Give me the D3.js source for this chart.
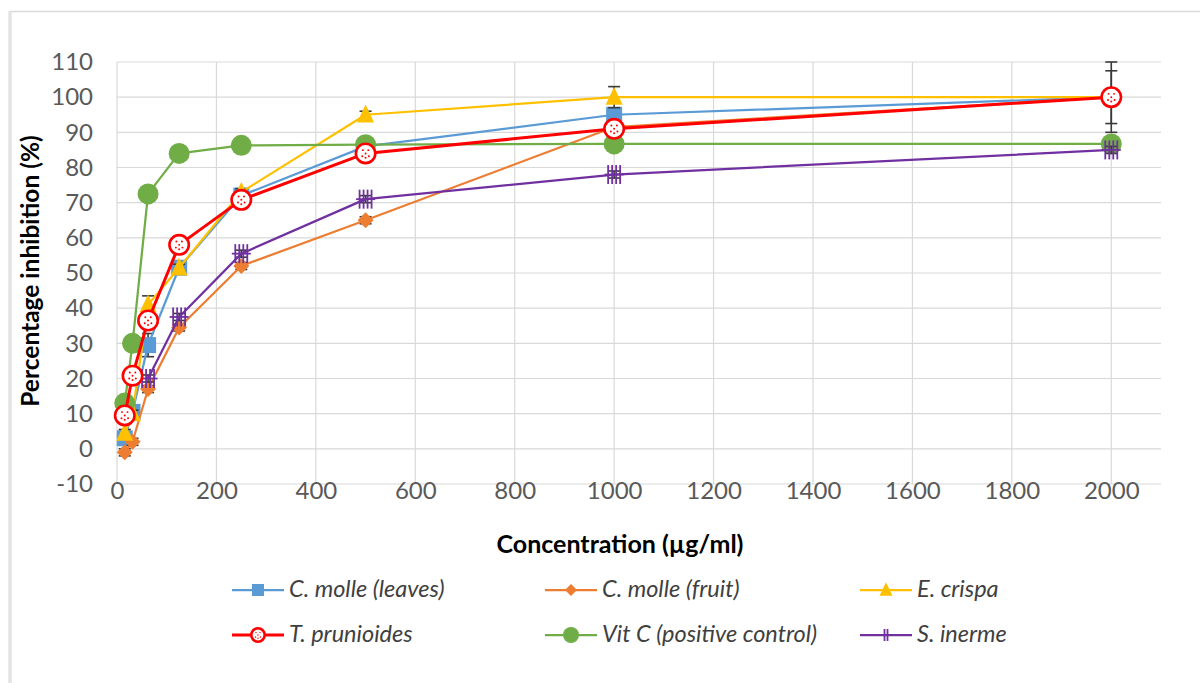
<!DOCTYPE html>
<html>
<head>
<meta charset="utf-8">
<script src="https://cdn.jsdelivr.net/npm/d3@7"></script>
<style>
  body { margin: 0; background: #fff; }
  text { font-family: Lato, "Open Sans", sans-serif; }
</style>
</head>
<body>
<div id="figure"></div>
<script>
const width = 1200,
      height = 683;

// Concentrations (µg/ml) and % inhibition per extract.
const concentrations = [15.625, 31.25, 62.5, 125, 250, 500, 1000, 2000];
const leaves     = [3, 10.5, 29.5, 51.5, 72, 86, 95, 100];
const fruit      = [-1, 2, 17, 34.5, 52, 65, 91.5, 100];
const crispa     = [4.5, 10, 41, 51.5, 73, 95, 100, 100];
const prunioides = [9.5, 20.8, 36.5, 58, 70.8, 84, 91, 100];
const vitc       = [13, 30, 72.5, 84, 86.3, 86.5, 86.7, 86.7];
const inerme     = [null, null, 20, 37.5, 55.5, 71, 78, 85];

// Standard deviations (error bars).
const leavesErr     = [1, 1, 3.3, 1, 1, 1, 1, 10];
const fruitErr      = [1, 1, 1, 1, 1, 1, 1, 7.5];
const crispaErr     = [1, 1, 2.5, 1, 1, 1, 3, 1];
const prunioidesErr = [1, 1, 1, 1, 1, 1, 1, 1];
const vitcErr       = [1, 1, 1, 1, 1, 1, 1, 1];
const inermeErr     = [0, 0, 1, 1, 1, 1, 1, 1];

const xTicks = d3.range(0, 2001, 200);
const yTicks = d3.range(-10, 111, 10);

const series = [
  {name: "C. molle (leaves)", values: leaves, err: leavesErr, color: "#5B9BD5", marker: "square", lw: 2.25},
  {name: "C. molle (fruit)", values: fruit, err: fruitErr, color: "#ED7D31", marker: "diamond", lw: 2.25},
  {name: "E. crispa", values: crispa, err: crispaErr, color: "#FFC000", marker: "triangle", lw: 2.25},
  {name: "T. prunioides", values: prunioides, err: prunioidesErr, color: "#FF0000", marker: "dotted", lw: 3},
  {name: "Vit C (positive control)", values: vitc, err: vitcErr, color: "#70AD47", marker: "circle", lw: 2.25},
  {name: "S. inerme", values: inerme, err: inermeErr, color: "#7030A0", marker: "bars", lw: 2.25}
];
// Drawing order: red series stays on top.
const drawOrder = [0, 1, 2, 4, 5, 3];

const svg = d3.select("#figure").append("svg")
    .attr("width", width)
    .attr("height", height);

// Frame around the figure.
svg.append("line")
    .attr("x1", 9).attr("x2", width).attr("y1", 11.5).attr("y2", 11.5)
    .attr("stroke", "#d9d9d9").attr("stroke-width", 1.5);
svg.append("line")
    .attr("x1", 10).attr("x2", 10).attr("y1", 11).attr("y2", height)
    .attr("stroke", "#e3e3e3").attr("stroke-width", 3.5);

const x = d3.scaleLinear().domain([0, 2100]).range([117, 1161]);
const y = d3.scaleLinear().domain([-10, 110]).range([484, 62]);

// Grid.
const grid = svg.append("g").attr("stroke", "#d9d9d9").attr("stroke-width", 1.2);
grid.selectAll("line.h")
    .data(yTicks)
    .join("line")
    .attr("class", "h")
    .attr("x1", x(0)).attr("x2", x(2100))
    .attr("y1", d => y(d)).attr("y2", d => y(d));
grid.selectAll("line.v")
    .data(xTicks)
    .join("line")
    .attr("class", "v")
    .attr("x1", d => x(d)).attr("x2", d => x(d))
    .attr("y1", y(110)).attr("y2", y(-10));

// Axes: labels only.
svg.append("g")
    .attr("transform", `translate(0,${y(-10) + 5})`)
    .call(d3.axisBottom(x).tickValues(xTicks).tickFormat(d => String(d)).tickSize(0).tickPadding(0))
    .call(g => g.select(".domain").remove())
    .call(g => g.selectAll("text")
        .attr("fill", "#595959")
        .attr("font-size", 24)
        .attr("dy", "0.15em")
        .attr("y", 0)
        .attr("dominant-baseline", "middle"));

svg.append("g")
    .attr("transform", `translate(93,0)`)
    .call(d3.axisLeft(y).tickValues(yTicks).tickFormat(d => String(d)).tickSize(0).tickPadding(0))
    .call(g => g.select(".domain").remove())
    .call(g => g.selectAll("text")
        .attr("fill", "#595959")
        .attr("font-size", 24));

// Axis titles.
svg.append("text")
    .attr("x", 620).attr("y", 547)
    .attr("text-anchor", "middle")
    .attr("dominant-baseline", "middle")
    .attr("font-size", 25).attr("font-weight", "bold")
    .attr("fill", "#000")
    .text("Concentration (µg/ml)");

svg.append("text")
    .attr("transform", "translate(33,271) rotate(-90)")
    .attr("text-anchor", "middle")
    .attr("dominant-baseline", "middle")
    .attr("font-size", 24.5).attr("font-weight", "bold")
    .attr("fill", "#000")
    .text("Percentage inhibition (%)");

// Marker drawing.
function drawMarker(g, type, color, s) {
  if (type === "square") {
    g.append("rect").attr("x", -s / 2).attr("y", -s / 2).attr("width", s).attr("height", s)
        .attr("fill", color);
  } else if (type === "diamond") {
    g.append("path").attr("d", `M0,${-s / 2}L${s / 2},0L0,${s / 2}L${-s / 2},0Z`)
        .attr("fill", color);
  } else if (type === "triangle") {
    g.append("path").attr("d", `M0,${-s * 0.6}L${s / 2},${s * 0.45}L${-s / 2},${s * 0.45}Z`)
        .attr("fill", color);
  } else if (type === "circle") {
    g.append("circle").attr("r", s / 2).attr("fill", color);
  } else if (type === "dotted") {
    g.append("circle").attr("r", s / 2 - 1.3).attr("fill", "#fff")
        .attr("stroke", color).attr("stroke-width", 2.6);
    const dots = [[-2.5, -3], [2.5, -3], [0, 0], [-3, 2.5], [3, 2.5], [0, 4]];
    const k = s / 20;
    g.selectAll("circle.dot").data(dots).join("circle")
        .attr("class", "dot")
        .attr("cx", d => d[0] * k).attr("cy", d => d[1] * k)
        .attr("r", 0.9 * k).attr("fill", color);
  } else if (type === "bars") {
    const n = s > 14 ? [-6, -2, 2, 6] : [-1.5, 1.5];
    g.selectAll("line.bar").data(n).join("line")
        .attr("class", "bar")
        .attr("x1", d => d).attr("x2", d => d)
        .attr("y1", -s / 2).attr("y2", s / 2)
        .attr("stroke", color).attr("stroke-width", 1.8);
    g.append("line").attr("x1", -s / 2).attr("x2", s / 2)
        .attr("stroke", color).attr("stroke-width", 1.8);
  }
}

const line = d3.line()
    .defined(d => d.v !== null)
    .x(d => x(d.c))
    .y(d => y(d.v));

const plot = svg.append("g");

drawOrder.forEach(i => {
  const s = series[i];
  const pts = concentrations.map((c, j) => ({c: c, v: s.values[j], e: s.err[j]}))
      .filter(d => d.v !== null);
  const g = plot.append("g");

  // Error bars.
  const eb = g.append("g").attr("stroke", "#3a3a3a").attr("stroke-width", 1.6);
  pts.filter(d => d.e > 0).forEach(d => {
    const cx = x(d.c);
    eb.append("line").attr("x1", cx).attr("x2", cx)
        .attr("y1", y(d.v - d.e)).attr("y2", y(d.v + d.e));
    [d.v - d.e, d.v + d.e].forEach(v => {
      eb.append("line").attr("x1", cx - 6).attr("x2", cx + 6)
          .attr("y1", y(v)).attr("y2", y(v));
    });
  });

  g.append("path")
      .datum(pts)
      .attr("fill", "none")
      .attr("stroke", s.color)
      .attr("stroke-width", s.lw)
      .attr("stroke-linejoin", "round")
      .attr("d", line);

  const size = {square: 16, diamond: 16, triangle: 17, circle: 21, dotted: 22, bars: 19}[s.marker];
  g.selectAll("g.mk")
      .data(pts)
      .join("g")
      .attr("class", "mk")
      .attr("transform", d => `translate(${x(d.c)},${y(d.v)})`)
      .each(function() { drawMarker(d3.select(this), s.marker, s.color, size); });
});

// Legend: two rows of three.
const legendCols = [232, 545, 860];
const legendRows = [590, 635];
const legendSize = {square: 12, diamond: 12, triangle: 13, circle: 16, dotted: 16, bars: 12};

series.forEach((s, i) => {
  const lx = legendCols[i % 3], ly = legendRows[Math.floor(i / 3)];
  const g = svg.append("g").attr("transform", `translate(${lx},${ly})`);
  g.append("line").attr("x1", 0).attr("x2", 52)
      .attr("stroke", s.color).attr("stroke-width", s.lw);
  const m = g.append("g").attr("transform", "translate(26,0)");
  drawMarker(m, s.marker, s.color, legendSize[s.marker]);
  g.append("text")
      .attr("x", 57).attr("y", 1)
      .attr("dominant-baseline", "middle")
      .attr("font-size", 23.5)
      .attr("font-style", "italic")
      .attr("fill", "#404040")
      .text(s.name);
});
</script>
</body>
</html>
